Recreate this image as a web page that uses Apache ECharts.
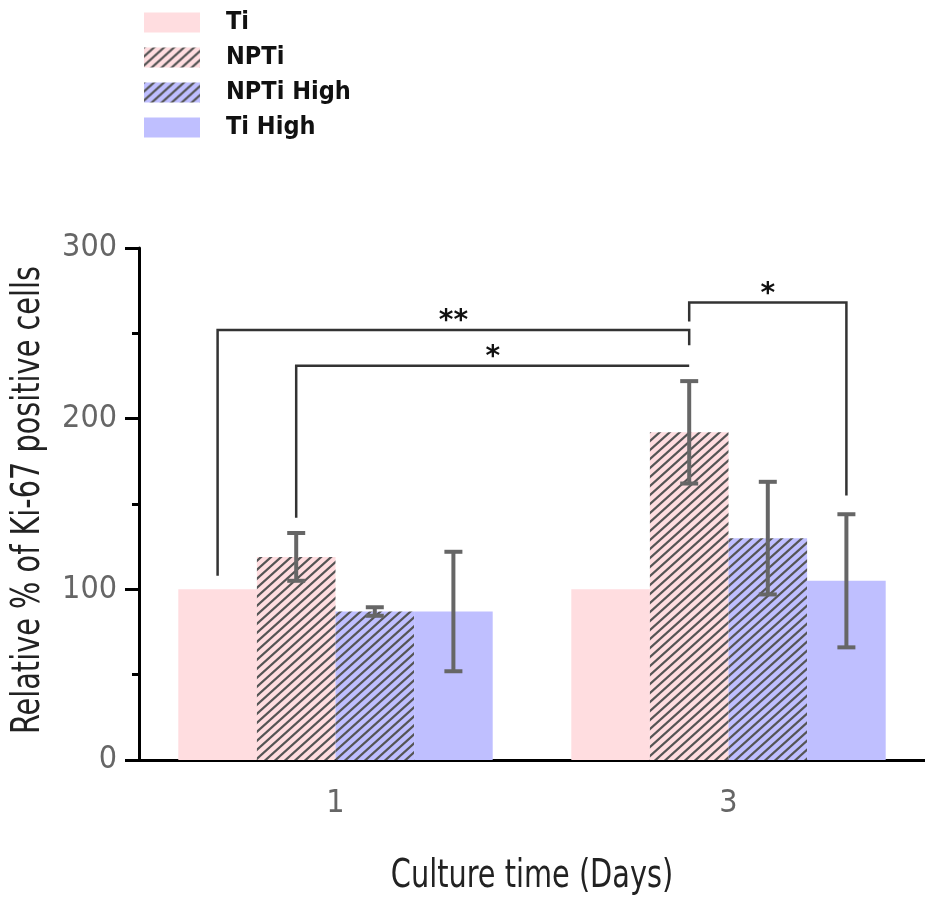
<!DOCTYPE html>
<html>
<head>
<meta charset="utf-8">
<script src="https://cdn.jsdelivr.net/npm/echarts@6/dist/echarts.min.js"></script>
<style>html,body{margin:0;padding:0;background:#fff}#c{width:925px;height:906px}</style>
</head>
<body>
<div id="c"></div>
<script>
// ---- data ----
const categories = ['1', '3'];
const seriesNames = ['Ti', 'NPTi', 'NPTi High', 'Ti High'];
const tiMean = [100, 100];
const nptiMean = [119, 192];
const nptiHighMean = [87, 130];
const tiHighMean = [87, 105];
const tiSD = [0, 0];
const nptiSD = [14, 30];
const nptiHighSD = [2.5, 33];
const tiHighSD = [35, 39];
const yTicks = [0, 100, 200, 300];
const xTitle = 'Culture time (Days)';
const yTitle = 'Relative % of Ki-67 positive cells';
// brackets: [leftCat, leftSeries, leftEndY, rightCat, rightSeries, rightEndY, topY]
const brackets = [
  [0, 0, 108, 1, 1, 243, 252],
  [0, 1, 142, 1, 1, 231, 231],
  [1, 1, 257, 1, 3, 155, 268]
];
const bracketLabels = ['**', '*', '*'];

const FONT = '"DejaVu Sans Condensed","DejaVu Sans",sans-serif';
const PINK = '#ffdde0';
const BLUE = '#bfbfff';

function hatch(bg) {
  const w = 10, h = 9;
  const c = document.createElement('canvas');
  c.width = w; c.height = h;
  const g = c.getContext('2d');
  g.fillStyle = bg; g.fillRect(0, 0, w, h);
  g.strokeStyle = '#555'; g.lineWidth = 2.2;
  g.beginPath();
  for (const [ox, oy] of [[0, 0], [-w, 0], [w, 0], [0, -h], [0, h]]) {
    g.moveTo(ox, oy + h); g.lineTo(ox + w, oy);
  }
  g.stroke();
  return c;
}

const means = [tiMean, nptiMean, nptiHighMean, tiHighMean];
const sds = [tiSD, nptiSD, nptiHighSD, tiHighSD];
const colors = [PINK, {image: hatch(PINK), repeat: 'repeat'}, {image: hatch(BLUE), repeat: 'repeat'}, BLUE];

const errData = [];
sds.forEach((arr, s) => arr.forEach((sd, i) => { if (sd > 0) errData.push([i, means[s][i], sd, s]); }));

function barOffset(api, s) {
  const band = api.size([1, 0])[0];
  const bw = band * 0.8 / 4;
  return (s - 1.5) * bw;
}

const barSeries = seriesNames.map((n, s) => ({
  name: n, type: 'bar', data: means[s],
  barGap: '0%', barCategoryGap: '20%',
  itemStyle: {color: colors[s]},
  emphasis: {disabled: true}
}));

const GRID = {left: 139, right: 0, top: 248, bottom: 146};
const W = 925, H = 906;

const option = {
  animation: false,
  grid: GRID,
  legend: {
    orient: 'vertical', left: 139, top: 5,
    itemWidth: 56, itemHeight: 20, itemGap: 10,
    icon: 'rect',
    data: seriesNames,
    textStyle: {fontFamily: FONT, fontSize: 25, fontWeight: 'bold', color: '#111', padding: [0, 0, 0, 21]}
  },
  graphic: [
    {type: 'text', x: GRID.left + (W - GRID.left - GRID.right) / 2, y: 877, scaleY: 1.2, silent: true,
     style: {text: xTitle, fontFamily: FONT, fontSize: 32, fill: '#222', align: 'center', verticalAlign: 'middle'}},
    {type: 'text', x: 29, y: GRID.top + (H - GRID.top - GRID.bottom) / 2 - 4, rotation: Math.PI / 2, scaleY: 1.2, silent: true,
     style: {text: yTitle, fontFamily: FONT, fontSize: 32, fill: '#222', align: 'center', verticalAlign: 'middle'}}
  ],
  xAxis: {
    type: 'category', data: categories,
    axisLine: {lineStyle: {color: '#000', width: 3}},
    axisTick: {alignWithLabel: true, length: 12, lineStyle: {color: '#000', width: 3}},
    axisLabel: {fontFamily: FONT, fontSize: 32, color: '#666', margin: 28}
  },
  yAxis: {
    type: 'value', min: yTicks[0], max: yTicks[yTicks.length - 1], interval: 100,
    axisLine: {show: true, lineStyle: {color: '#000', width: 3}},
    axisTick: {show: true, length: 14, lineStyle: {color: '#000', width: 3}},
    minorTick: {show: true, splitNumber: 2, length: 7, lineStyle: {color: '#000', width: 3}},
    splitLine: {show: false},
    axisLabel: {fontFamily: FONT, fontSize: 32, color: '#666', margin: 22}
  },
  series: barSeries.concat([
    {
      type: 'custom', data: errData, z: 5, silent: true,
      renderItem: (params, api) => {
        const cat = api.value(0), m = api.value(1), sd = api.value(2), s = api.value(3);
        const top = api.coord([cat, m + sd]);
        const bot = api.coord([cat, m - sd]);
        const x = top[0] + barOffset(api, s);
        const cap = 9;
        const st = {stroke: '#666', lineWidth: 4};
        return {type: 'group', children: [
          {type: 'line', shape: {x1: x, y1: top[1], x2: x, y2: bot[1]}, style: st},
          {type: 'line', shape: {x1: x - cap, y1: top[1], x2: x + cap, y2: top[1]}, style: st},
          {type: 'line', shape: {x1: x - cap, y1: bot[1], x2: x + cap, y2: bot[1]}, style: st}
        ]};
      }
    },
    {
      type: 'custom', data: brackets, z: 6, silent: true,
      renderItem: (params, api) => {
        const lc = api.value(0), ls = api.value(1), ly = api.value(2);
        const rc = api.value(3), rs = api.value(4), ry = api.value(5), ty = api.value(6);
        const l = api.coord([lc, ly]), r = api.coord([rc, ry]);
        const lx = l[0] + barOffset(api, ls), rx = r[0] + barOffset(api, rs);
        const t = api.coord([lc, ty])[1];
        return {type: 'group', children: [
          {type: 'polyline', shape: {points: [[lx, l[1]], [lx, t], [rx, t], [rx, r[1]]]},
           style: {stroke: '#333', lineWidth: 2.5, fill: 'none'}},
          {type: 'text', x: (lx + rx) / 2, y: t + 6,
           style: {text: bracketLabels[params.dataIndex], fontFamily: 'DejaVu Sans, sans-serif', fontSize: 28, fontWeight: 'bold',
                   fill: '#111', align: 'center', verticalAlign: 'bottom'}}
        ]};
      }
    }
  ])
};

const chart = echarts.init(document.getElementById('c'), null, {renderer: 'canvas'});
chart.setOption(option);
</script>
</body>
</html>
